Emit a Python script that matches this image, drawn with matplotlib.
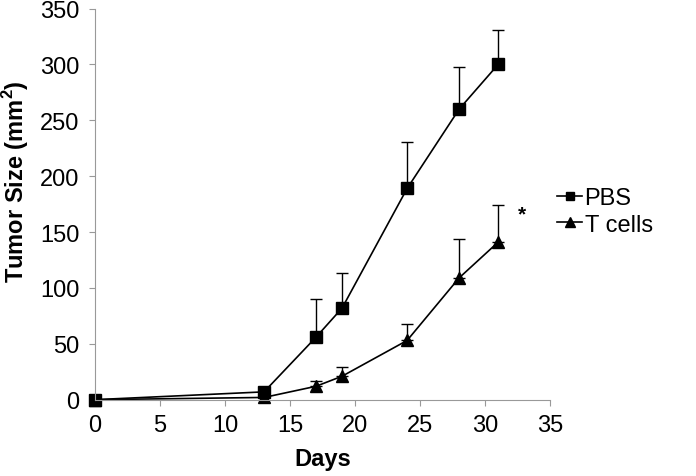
import matplotlib
matplotlib.use("Agg")
import matplotlib.pyplot as plt

plt.rcParams['font.family'] = ['Liberation Sans', 'DejaVu Sans']

days = [0, 13, 17, 19, 24, 28, 31]
pbs = [0, 7, 56, 82, 189, 260, 300]
pbs_err = [0, 0, 34, 31, 42, 38, 31]
tcells = [0, 2, 12, 21, 53, 109, 141]
tcells_err = [0, 0, 5, 8, 15, 35, 33]

xticks = [0, 5, 10, 15, 20, 25, 30, 35]
yticks = [0, 50, 100, 150, 200, 250, 300, 350]

fig = plt.figure(figsize=(6.96, 4.77), dpi=100)
ax = fig.add_axes([0.1365, 0.160, 0.654, 0.820])

ax.errorbar(days, pbs, yerr=[[0]*len(pbs), pbs_err], color='black', lw=1.2,
            marker='s', ms=8, elinewidth=1.0, capsize=4, capthick=1.0, label='PBS')
ax.errorbar(days, tcells, yerr=[[0]*len(tcells), tcells_err], color='black', lw=1.2,
            marker='^', ms=9, elinewidth=1.0, capsize=4, capthick=1.0, label='T cells')

ax.text(32.8, 166, '*', fontsize=15, fontweight='bold', ha='center', va='center')

ax.set_xlim(0, 35)
ax.set_ylim(0, 350)
ax.set_xticks(xticks)
ax.set_yticks(yticks)
ax.tick_params(axis='both', labelsize=17, length=4, width=0.8, color='#999999')
ax.tick_params(axis='y', pad=7)
ax.tick_params(axis='x', pad=6)
for s in ['top', 'right']:
    ax.spines[s].set_visible(False)
for s in ['left', 'bottom']:
    ax.spines[s].set_color('#999999')
    ax.spines[s].set_linewidth(0.8)
for art in ax.get_children():
    try:
        art.set_clip_on(False)
    except Exception:
        pass

ax.set_xlabel('Days', fontsize=17, fontweight='bold')
ax.set_ylabel('Tumor Size (mm$^\\mathregular{2}$)', fontsize=17, fontweight='bold')
ax.xaxis.set_label_coords(0.5, -0.121)
ax.yaxis.set_label_coords(-0.141, 0.561)

handles, labels = ax.get_legend_handles_labels()
handles = [h[0] for h in handles]
leg = ax.legend(handles, labels, loc='center left', bbox_to_anchor=(1.016, 0.482),
                frameon=False, fontsize=17, handlelength=1.05, handletextpad=0.1,
                labelspacing=0.2, markerscale=0.75, borderpad=0, borderaxespad=0)

fig.savefig('out.png', dpi=100)
